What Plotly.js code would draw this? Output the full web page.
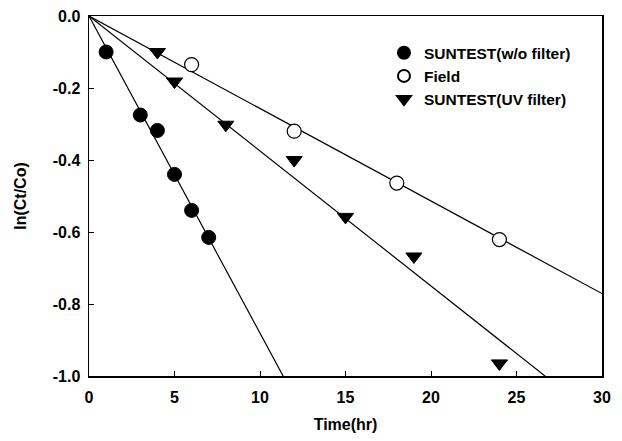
<!DOCTYPE html>
<html><head><meta charset="utf-8">
<script src="https://cdn.plot.ly/plotly-3.0.1.min.js"></script>
<style>body{margin:0;padding:0;background:#fff}#c{width:622px;height:441px}</style>
</head><body><div id="c"></div>
<script>
const seriesNames = ["SUNTEST(w/o filter)", "Field", "SUNTEST(UV filter)"];
const xNoFilter = [1, 3, 4, 5, 6, 7];
const yNoFilter = [-0.10, -0.275, -0.318, -0.44, -0.54, -0.615];
const xField = [6, 12, 18, 24];
const yField = [-0.135, -0.32, -0.464, -0.621];
const xUV = [4, 5, 8, 12, 15, 19, 24];
const yUV = [-0.10, -0.182, -0.302, -0.40, -0.558, -0.668, -0.965];
const fitSlopes = [-0.0881, -0.0257, -0.0375];
const fitX = [0, 30];
const xTicks = [0, 5, 10, 15, 20, 25, 30];
const yTicks = [0.0, -0.2, -0.4, -0.6, -0.8, -1.0];
const yTickText = ["0.0", "-0.2", "-0.4", "-0.6", "-0.8", "-1.0"];

const F = "Liberation Sans, Arial, sans-serif";
const traces = [];
fitSlopes.forEach(s => {
  traces.push({x: fitX, y: fitX.map(v => v * s), mode: "lines", type: "scatter",
    line: {color: "#000", width: 1.2}, showlegend: false, hoverinfo: "skip"});
});
traces.push({x: xNoFilter, y: yNoFilter, mode: "markers", type: "scatter", name: seriesNames[0],
  marker: {symbol: "circle", size: 14, color: "#000", line: {color: "#000", width: 1}}});
traces.push({x: xField, y: yField, mode: "markers", type: "scatter", name: seriesNames[1],
  marker: {symbol: "circle", size: 14, color: "#fff", line: {color: "#000", width: 1.2}}});
traces.push({x: xUV, y: yUV, mode: "markers", type: "scatter", name: seriesNames[2],
  marker: {symbol: "triangle-down", size: 14, color: "#000", line: {color: "#000", width: 1}}});

const layout = {
  width: 622, height: 441,
  margin: {l: 89, r: 20, t: 16, b: 65},
  paper_bgcolor: "#fff", plot_bgcolor: "#fff",
  font: {family: F, color: "#000", size: 15, weight: "bold"},
  showlegend: true,
  legend: {x: 0.575, y: 0.944, xanchor: "left", yanchor: "top", bgcolor: "rgba(0,0,0,0)",
    font: {family: F, size: 15.5, weight: "bold"}, tracegroupgap: 0, itemsizing: "constant"},
  xaxis: {range: [0, 30], tickvals: xTicks, ticks: "inside", ticklen: 5, tickcolor: "#000",
    showgrid: false, zeroline: false, showline: true, linecolor: "#000", linewidth: 1.5, mirror: true,
    tickfont: {family: F, size: 16, weight: "bold"}, ticklabelstandoff: 6,
    title: {text: "Time(hr)", font: {family: F, size: 16, weight: "bold"}, standoff: 14}},
  yaxis: {range: [-1.0, 0.0], tickvals: yTicks, ticktext: yTickText, ticks: "inside", ticklen: 5, tickcolor: "#000",
    showgrid: false, zeroline: false, showline: true, linecolor: "#000", linewidth: 1.5, mirror: true,
    tickfont: {family: F, size: 16, weight: "bold"}, ticklabelstandoff: 4,
    title: {text: "ln(Ct/Co)", font: {family: F, size: 16, weight: "bold"}, standoff: 22}}
};
Plotly.newPlot("c", traces, layout, {staticPlot: true, displayModeBar: false});
</script></body></html>
